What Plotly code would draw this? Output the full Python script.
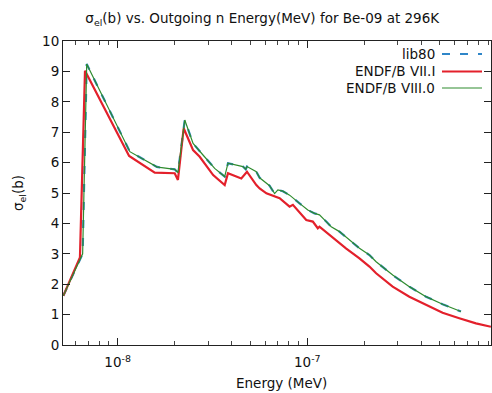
import plotly.graph_objects as go

# ---- data ----
series_names = ["lib80", "ENDF/B VII.I", "ENDF/B VIII.0"]

e_vii = [5.17e-9, 6.33e-9, 6.73e-9, 1.15e-8, 1.57e-8, 2.00e-8, 2.08e-8, 2.23e-8, 2.50e-8,
         2.71e-8, 3.19e-8, 3.67e-8, 3.82e-8, 4.49e-8, 4.81e-8, 5.39e-8, 5.61e-8, 6.09e-8,
         7.15e-8, 8.07e-8, 8.40e-8, 9.11e-8, 9.48e-8, 9.88e-8, 1.07e-7, 1.137e-7, 1.16e-7,
         1.26e-7, 1.34e-7, 1.421e-7, 1.60e-7, 1.885e-7, 2.128e-7, 2.308e-7, 2.822e-7,
         3.455e-7, 4.23e-7, 5.172e-7, 6.334e-7, 7.754e-7, 9.30e-7]
s_vii = [1.62, 2.88, 9.02, 6.22, 5.67, 5.65, 5.43, 7.13, 6.41,
         6.19, 5.59, 5.26, 5.65, 5.48, 5.70, 5.26, 5.15, 4.99,
         4.83, 4.55, 4.61, 4.35, 4.22, 4.11, 4.06, 3.84, 3.89,
         3.70, 3.58, 3.45, 3.18, 2.85, 2.58, 2.36, 1.92,
         1.59, 1.32, 1.06, 0.88, 0.71, 0.60]

e_viii = [5.17e-9, 6.33e-9, 6.54e-9, 6.87e-9, 1.16e-8, 1.61e-8, 1.67e-8, 2.00e-8, 2.08e-8,
          2.26e-8, 2.50e-8, 2.82e-8, 3.25e-8, 3.67e-8, 3.82e-8, 4.58e-8, 4.74e-8, 4.81e-8,
          5.39e-8, 5.61e-8, 6.33e-8, 6.73e-8, 7.00e-8, 7.44e-8, 8.07e-8, 9.11e-8, 1.007e-7,
          1.093e-7, 1.16e-7, 1.259e-7, 1.338e-7, 1.479e-7, 1.704e-7, 1.885e-7, 2.128e-7,
          2.308e-7, 2.822e-7, 3.455e-7, 4.23e-7, 5.172e-7, 6.465e-7]
s_viii = [1.62, 2.85, 3.00, 9.24, 6.36, 5.86, 5.84, 5.78, 5.67,
          7.40, 6.63, 6.25, 5.81, 5.54, 5.98, 5.87, 5.78, 5.87,
          5.70, 5.50, 5.24, 4.98, 5.10, 5.06, 4.93, 4.66, 4.44,
          4.33, 4.28, 4.06, 3.89, 3.73, 3.40, 3.18, 2.96,
          2.74, 2.30, 1.92, 1.59, 1.34, 1.10]

e_lib80 = list(e_viii)
s_lib80 = list(s_viii)

x_tickvals = [1e-8, 1e-7]
x_ticktext = ["10<sup>-8</sup>", "10<sup>-7</sup>"]

colors = ["#2f86c8", "#e3202b", "#2e8b2e"]
widths = [2.2, 2.2, 1.2]
dashes = ["8px,10px", "solid", "solid"]

FONT = "DejaVu Sans"
FS = 13.5
W, H = 492, 393
ML, MR, MT, MB = 63, 1, 41, 48

fig = go.Figure()
for name, e, s, c, w, d in zip(series_names, [e_lib80, e_vii, e_viii],
                               [s_lib80, s_vii, s_viii], colors, widths, dashes):
    fig.add_trace(go.Scatter(x=e, y=s, mode="lines", name=name,
                             line=dict(color=c, width=w, dash=d),
                             showlegend=False))

# manual legend (text left of sample, gnuplot style)
pw = W - ML - MR
ph = H - MT - MB
def px(xp):
    return (xp - ML) / pw
def py(yp):
    return (H - MB - yp) / ph

leg_y = [54, 71.5, 88]
annotations = []
shapes = []
for name, c, w, d, yy in zip(series_names, colors, widths, dashes, leg_y):
    annotations.append(dict(x=px(437), y=py(yy), xref="paper", yref="paper",
                            text=name, showarrow=False, xanchor="right", yanchor="middle",
                            font=dict(family=FONT, size=FS, color="#111")))
    shapes.append(dict(type="line", xref="paper", yref="paper",
                       x0=px(442), x1=px(482), y0=py(yy), y1=py(yy),
                       line=dict(color=c, width=w, dash=d)))

# axis titles
annotations.append(dict(x=px(281), y=py(383), xref="paper", yref="paper",
                        text="Energy (MeV)", showarrow=False,
                        xanchor="center", yanchor="middle",
                        font=dict(family=FONT, size=FS, color="#111")))
annotations.append(dict(x=px(19), y=py(193), xref="paper", yref="paper",
                        text="σ<sub>el</sub>(b)", showarrow=False, textangle=-90,
                        xanchor="center", yanchor="middle",
                        font=dict(family=FONT, size=FS, color="#111")))

fig.update_layout(
    width=W, height=H,
    margin=dict(l=ML, r=MR, t=MT, b=MB),
    paper_bgcolor="white", plot_bgcolor="white",
    font=dict(family=FONT, size=FS, color="#111"),
    title=dict(text="σ<sub>el</sub>(b) vs. Outgoing n Energy(MeV) for Be-09 at 296K",
               x=0.533, xanchor="center", y=1 - 18 / H, yanchor="middle",
               yref="container", font=dict(family=FONT, size=FS, color="#111")),
    annotations=annotations,
    shapes=shapes,
    xaxis=dict(type="log", range=[-8.288, -6.031], showgrid=False, zeroline=False,
               showline=True, linecolor="#222", linewidth=1, mirror="ticks",
               ticks="inside", ticklen=7, tickcolor="#222",
               tickvals=x_tickvals, ticktext=x_ticktext, ticklabelstandoff=5,
               tickfont=dict(family=FONT, size=FS, color="#111"),
               minor=dict(ticks="inside", ticklen=4, tickcolor="#444",
                          tickvals=[6e-9, 7e-9, 8e-9, 9e-9,
                                    2e-8, 3e-8, 4e-8, 5e-8, 6e-8, 7e-8, 8e-8, 9e-8,
                                    2e-7, 3e-7, 4e-7, 5e-7, 6e-7, 7e-7, 8e-7, 9e-7])),
    yaxis=dict(range=[0, 10], showgrid=False, zeroline=False,
               showline=True, linecolor="#222", linewidth=1, mirror="ticks",
               ticks="inside", ticklen=7, tickcolor="#222", dtick=1,
               tickfont=dict(family=FONT, size=FS, color="#111")),
)

fig.write_html("out.html")
